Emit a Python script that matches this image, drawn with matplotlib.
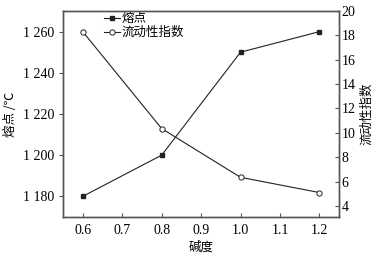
import matplotlib
matplotlib.use('Agg')
import matplotlib.pyplot as plt
from matplotlib.ticker import FuncFormatter

plt.rcParams['font.family'] = ['Liberation Serif', 'Noto Sans CJK SC']
plt.rcParams['mathtext.fontset'] = 'stix'

# data
basicity = [0.6, 0.8, 1.0, 1.2]
melt_point = [1180, 1200, 1250, 1260]
fluidity = [18.3, 10.35, 6.35, 5.1]

cjk = ['Noto Sans CJK SC', 'DejaVu Sans']
c_line = '#222222'
c_spine = '#555555'

fig = plt.figure(figsize=(3.78, 2.57), dpi=100)
ax = fig.add_axes([0.167, 0.156, 0.730, 0.801])
ax2 = ax.twinx()

l1, = ax.plot(basicity, melt_point, '-s', color=c_line, lw=0.8,
              ms=3.5, mfc=c_line, mec=c_line, label='熔点')
l2, = ax2.plot(basicity, fluidity, '-o', color=c_line, lw=0.8,
               ms=3.8, mfc='white', mec=c_line, mew=0.7, label='流动性指数')

ax.set_xlim(0.55, 1.25)
ax.set_ylim(1170, 1270)
ax2.set_ylim(3.1, 20)
ax.set_xticks([0.6, 0.7, 0.8, 0.9, 1.0, 1.1, 1.2])
ax.set_yticks([1180, 1200, 1220, 1240, 1260])
ax2.set_yticks([4, 6, 8, 10, 12, 14, 16, 18, 20])
ax.yaxis.set_major_formatter(FuncFormatter(lambda v, p: f'{int(v):,}'.replace(',', ' ')))

ax.tick_params(axis='x', direction='in', length=3, width=0.8, labelsize=10, color=c_spine, pad=5)
ax.tick_params(axis='y', direction='out', length=3, width=0.8, labelsize=10, color=c_spine)
ax2.tick_params(axis='y', direction='in', length=3, width=0.8, labelsize=10, color=c_spine, pad=2)

for a in (ax, ax2):
    for s in a.spines.values():
        s.set_color(c_spine)
        s.set_linewidth(1.0)

ax.set_xlabel('碱度', family=cjk, fontsize=9, labelpad=3)
ax.set_ylabel('熔点 /℃', family=cjk, fontsize=9, labelpad=4)
ax2.set_ylabel('流动性指数', family=cjk, fontsize=9, labelpad=3)

leg = ax.legend(handles=[l1, l2], loc='upper left', bbox_to_anchor=(0.12, 1.03),
                frameon=False, prop={'family': cjk, 'size': 9},
                handlelength=1.3, handletextpad=0.1, labelspacing=0.05,
                borderaxespad=0.2)

fig.savefig('out.png', dpi=100)
